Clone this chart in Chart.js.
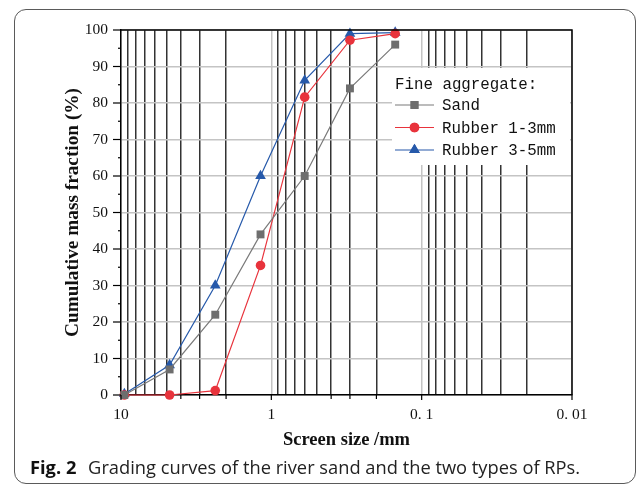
<!DOCTYPE html>
<html>
<head>
<meta charset="utf-8">
<script src="https://cdn.jsdelivr.net/npm/chart.js@4.4.1/dist/chart.umd.min.js"></script>
<style>
  html, body { margin: 0; padding: 0; background: #fff; }
  #wrap { position: relative; width: 637px; height: 487px; overflow: hidden; }
  #frame { position: absolute; left: 14px; top: 9px; width: 622px; height: 475px;
           border: 1.5px solid #5a5a5a; border-radius: 12px; box-sizing: border-box; }
  #cv { position: absolute; left: 0; top: 0; }
  #caption { position: absolute; left: 30px; top: 454px; font-family: "Open Sans", sans-serif;
             font-size: 18.3px; line-height: normal; color: #222; white-space: nowrap; }
  #caption b { font-weight: 700; margin-right: 7px; color: #111; }
</style>
</head>
<body>
<div id="wrap">
  <div id="frame"></div>
  <canvas id="cv" width="637" height="487"></canvas>
  <div id="caption"><b>Fig. 2</b> Grading curves of the river sand and the two types of RPs.</div>
</div>
<script>
// ---- data ----
const sieveSizes = [9.5, 4.75, 2.36, 1.18, 0.6, 0.3, 0.15];
const sandValues = [0, 7, 22, 44, 60, 84, 96];
const rubber13Values = [0, 0, 1.2, 35.5, 81.6, 97.2, 99];
const rubber35Values = [0.3, 8.2, 30, 60, 86.2, 99, 99.3];
const seriesNames = ['Sand', 'Rubber 1-3mm', 'Rubber 3-5mm'];
const legendTitle = 'Fine aggregate:';

const xTickValues = [0.01,0.02,0.03,0.04,0.05,0.06,0.07,0.08,0.09,
                     0.1,0.2,0.3,0.4,0.5,0.6,0.7,0.8,0.9,
                     1,2,3,4,5,6,7,8,9,10];
const xDecades = [0.01, 0.1, 1, 10];
const xDecadeLabels = ['0. 01', '0. 1', '1', '10'];
const xTickMarkValues = [0.01,0.1,0.2,0.3,0.4,1,2,3,4,10];
const yTickValues = [0,5,10,15,20,25,30,35,40,45,50,55,60,65,70,75,80,85,90,95,100];
const yLabelValues = [0,10,20,30,40,50,60,70,80,90,100];

const toXY = vals => sieveSizes.map((s, i) => ({x: s, y: vals[i]}));

const styles = [
  {color: '#7a7a7a', fill: '#6e6e6e', pointStyle: 'rect', radius: 5.6},
  {color: '#e8333c', fill: '#e8333c', pointStyle: 'circle', radius: 4.8},
  {color: '#2659aa', fill: '#2659aa', pointStyle: 'triangle', radius: 6.2}
];
const allValues = [sandValues, rubber13Values, rubber35Values];

const datasets = allValues.map((vals, i) => ({
  label: seriesNames[i],
  data: toXY(vals),
  borderColor: styles[i].color,
  backgroundColor: styles[i].fill,
  pointBackgroundColor: styles[i].fill,
  pointBorderColor: styles[i].fill,
  pointBorderWidth: 0,
  pointStyle: styles[i].pointStyle,
  pointRadius: styles[i].radius,
  pointHoverRadius: styles[i].radius,
  borderWidth: 1.2,
  tension: 0,
  clip: false
}));

const isDecade = v => xDecades.some(d => Math.abs(d - v) < 1e-9);

const framePlugin = {
  id: 'framePlugin',
  afterDraw(chart) {
    const {ctx, chartArea: a, scales} = chart;
    ctx.save();
    // top and right frame
    ctx.strokeStyle = '#000';
    ctx.lineWidth = 1.5;
    ctx.beginPath();
    ctx.moveTo(a.left, a.top); ctx.lineTo(a.right, a.top); ctx.lineTo(a.right, a.bottom);
    ctx.stroke();
    // y tick marks
    ctx.lineWidth = 1.2;
    yTickValues.forEach(v => {
      const y = scales.y.getPixelForValue(v);
      const len = yLabelValues.includes(v) ? 8 : 3;
      ctx.beginPath(); ctx.moveTo(a.left - len, y); ctx.lineTo(a.left, y); ctx.stroke();
    });
    // x tick marks
    xTickMarkValues.forEach(v => {
      const x = scales.x.getPixelForValue(v);
      const len = isDecade(v) ? 5 : 4;
      ctx.beginPath(); ctx.moveTo(x, a.bottom); ctx.lineTo(x, a.bottom + len); ctx.stroke();
    });
    // legend
    const lx = 392, ly = 68, lw = 178, lh = 97;
    ctx.fillStyle = '#fff';
    ctx.fillRect(lx, ly, lw, lh);
    ctx.fillStyle = '#111';
    ctx.font = '15.8px "Liberation Mono", monospace';
    ctx.textBaseline = 'middle';
    ctx.textAlign = 'left';
    ctx.fillText(legendTitle, 395, 85);
    const rows = [105, 127.5, 150];
    chart.data.datasets.forEach((ds, i) => {
      const y = rows[i];
      ctx.strokeStyle = ds.borderColor;
      ctx.lineWidth = 1.2;
      ctx.beginPath(); ctx.moveTo(395, y); ctx.lineTo(434, y); ctx.stroke();
      ctx.fillStyle = ds.pointBackgroundColor;
      Chart.helpers.drawPoint(ctx, {pointStyle: ds.pointStyle, radius: ds.pointRadius, rotation: 0, borderWidth: 0}, 414.5, y);
      ctx.fill();
      ctx.fillStyle = '#111';
      ctx.fillText(ds.label, 442, y + 1);
    });
    ctx.restore();
  }
};

new Chart(document.getElementById('cv'), {
  type: 'line',
  data: { datasets },
  plugins: [framePlugin],
  options: {
    responsive: false,
    animation: false,
    devicePixelRatio: 1,
    layout: { padding: { left: 0, top: 30, right: 65, bottom: 0 } },
    plugins: { legend: { display: false }, tooltip: { enabled: false } },
    scales: {
      x: {
        type: 'logarithmic',
        reverse: true,
        min: 0.01,
        max: 10,
        afterBuildTicks: s => { s.ticks = xTickValues.map(v => ({value: v, major: isDecade(v)})); },
        afterFit: s => { s.height = 92; },
        grid: {
          drawTicks: false,
          lineWidth: 1.5,
          color: c => isDecade(c.tick.value) ? '#c4c4c4' : '#333'
        },
        border: { color: '#000', width: 1.5 },
        ticks: {
          autoSkip: false,
          maxRotation: 0,
          padding: 11,
          color: '#111',
          font: { family: '"Liberation Serif", serif', size: 15.5 },
          callback: v => {
            const idx = xDecades.findIndex(d => Math.abs(d - v) < 1e-9);
            return idx >= 0 ? xDecadeLabels[idx] : '';
          }
        },
        title: {
          display: true,
          text: 'Screen size /mm',
          color: '#111',
          font: { family: '"Liberation Serif", serif', size: 18.5, weight: 'bold' },
          padding: { top: 0, bottom: 36 }
        }
      },
      y: {
        min: 0,
        max: 100,
        afterBuildTicks: s => { s.ticks = yTickValues.map(v => ({value: v})); },
        afterFit: s => { s.width = 121; },
        grid: {
          drawTicks: false,
          lineWidth: 1.5,
          color: c => yLabelValues.includes(c.tick.value) ? '#c4c4c4' : 'rgba(0,0,0,0)'
        },
        border: { color: '#000', width: 1.5 },
        ticks: {
          autoSkip: false,
          padding: 13,
          color: '#111',
          font: { family: '"Liberation Serif", serif', size: 15.5 },
          callback: v => yLabelValues.includes(v) ? String(v) : ''
        },
        title: {
          display: true,
          text: 'Cumulative mass fraction (%)',
          color: '#111',
          font: { family: '"Liberation Serif", serif', size: 19.3, weight: 'bold' },
          padding: { top: 61, bottom: 0 }
        }
      }
    }
  }
});
</script>
</body>
</html>
